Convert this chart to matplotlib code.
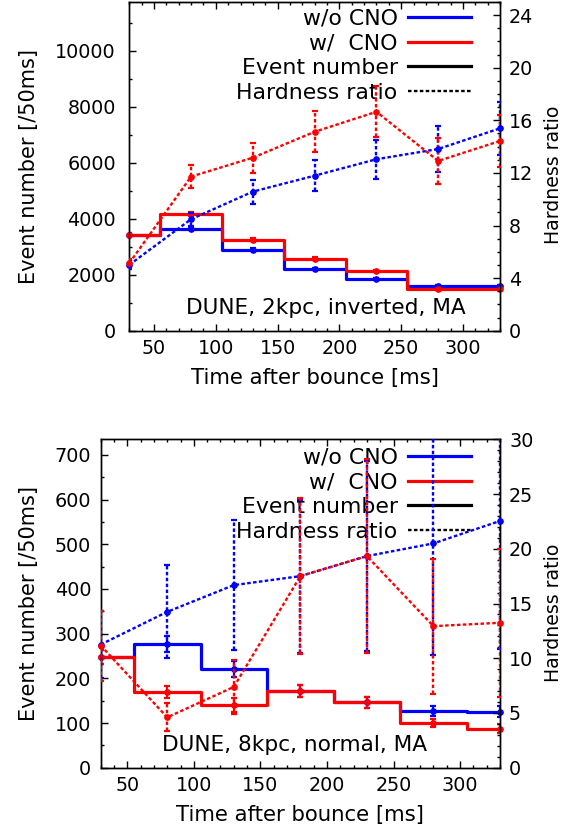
import matplotlib
matplotlib.use('Agg')
import matplotlib.pyplot as plt
from matplotlib.ticker import MultipleLocator
from matplotlib.lines import Line2D

plt.rcParams['font.family'] = ['DejaVu Sans']
plt.rcParams['axes.linewidth'] = 1.0

# ---------------- data ----------------
time_ms = [30, 80, 130, 180, 230, 280, 330]

# Top panel: DUNE, 2kpc, inverted, MA
top_events_wo = [3425, 3650, 2900, 2212, 1844, 1605, 1581]
top_events_wo_err = [55, 60, 54, 47, 43, 40, 40]
top_events_w = [3425, 4163, 3247, 2569, 2141, 1498, 1487]
top_events_w_err = [55, 65, 57, 51, 46, 39, 39]
top_hard_wo = [5.01, 8.48, 10.58, 11.79, 13.04, 13.82, 15.39]
top_hard_wo_err = [0.3, 0.5, 0.91, 1.2, 1.5, 1.77, 2.0]
top_hard_w = [5.14, 11.72, 13.16, 15.13, 16.65, 12.91, 14.43]
top_hard_w_err = [0.3, 0.89, 1.14, 1.57, 1.95, 1.75, 1.96]

# Bottom panel: DUNE, 8kpc, normal, MA
bot_events_wo = [248, 276, 220, 172, 146, 127, 125.5]
bot_events_wo_err = [16, 18, 18, 13, 12, 12, 12]
bot_events_w = [248, 169, 140, 172, 146, 99.6, 87]
bot_events_w_err = [16, 13, 15, 13, 12, 9, 10]
bot_hard_wo = [11.25, 14.24, 16.68, 17.5, 19.33, 20.49, 22.54]
bot_hard_wo_err = [3.1, 4.24, 5.95, 7.0, 8.7, 10.2, 11.7]
bot_hard_w = [11.16, 4.6, 7.38, 17.5, 19.33, 12.93, 13.24]
bot_hard_w_err = [3.2, 1.27, 2.47, 7.1, 8.84, 6.17, 6.75]

legend_labels = ['w/o CNO', 'w/  CNO', 'Event number', 'Hardness ratio']
x_label = 'Time after bounce [ms]'
y_label = 'Event number [/50ms]'
y2_label = 'Hardness ratio'

BLUE = '#0000ff'
RED = '#ff0000'
DOT = (0, (1.5, 1.0))
W, H = 579, 833

fig = plt.figure(figsize=(W / 100, H / 100), dpi=100)


def make_panel(rect, ev_wo, ev_wo_err, ev_w, ev_w_err, hd_wo, hd_wo_err, hd_w, hd_w_err,
               ymax, y2max, ymaj, ymin, y2maj, y2min, text, text_xy, leg_anchor,
               lpad, ylab_x):
    ax = fig.add_axes(rect)
    ax2 = ax.twinx()
    # event numbers (histogram steps)
    for ev, err, c in ((ev_wo, ev_wo_err, BLUE), (ev_w, ev_w_err, RED)):
        ax.step(time_ms, ev, where='mid', color=c, lw=2.3, zorder=2)
        ax.errorbar(time_ms, ev, yerr=err, fmt='none', ecolor=c, elinewidth=1.6,
                    capsize=2.2, capthick=1.6, zorder=3)
        ax.plot(time_ms, ev, 'o', color=c, ms=3.8, clip_on=False, zorder=4)
    # hardness ratio
    for hd, err, c in ((hd_wo, hd_wo_err, BLUE), (hd_w, hd_w_err, RED)):
        ax2.plot(time_ms, hd, color=c, lw=1.7, ls=DOT, zorder=2)
        eb = ax2.errorbar(time_ms, hd, yerr=err, fmt='none', ecolor=c, elinewidth=1.7,
                          capsize=2.2, capthick=1.6, zorder=3)
        eb[2][0].set_linestyle(DOT)
        ax2.plot(time_ms, hd, 'o', color=c, ms=3.8, clip_on=False, zorder=4)

    ax.set_xlim(30, 330)
    ax.set_ylim(0, ymax)
    ax2.set_ylim(0, y2max)
    ax.xaxis.set_major_locator(MultipleLocator(50))
    ax.xaxis.set_minor_locator(MultipleLocator(10))
    ax.yaxis.set_major_locator(MultipleLocator(ymaj))
    ax.yaxis.set_minor_locator(MultipleLocator(ymin))
    ax2.yaxis.set_major_locator(MultipleLocator(y2maj))
    ax2.yaxis.set_minor_locator(MultipleLocator(y2min))

    ax.tick_params(which='both', direction='in', top=True, right=False, labelsize=13.8)
    ax.tick_params(which='major', length=5, width=1)
    ax.tick_params(which='minor', length=2.5, width=1)
    ax.tick_params(axis='y', pad=lpad)
    ax.tick_params(axis='x', pad=6)
    ax2.tick_params(which='both', direction='in', right=True, left=False, labelsize=13.8, pad=6.5)
    ax2.tick_params(which='major', length=5, width=1)
    ax2.tick_params(which='minor', length=2.5, width=1)

    ax.set_xlabel(x_label, fontsize=15.3)
    ax.xaxis.label.set_va('center')
    ax.xaxis.set_label_coords(0.5, -0.144)
    ax.set_ylabel(y_label, fontsize=15)
    ax.yaxis.label.set_va('center')
    ax.yaxis.set_label_coords(ylab_x[0], 0.499)
    ax2.set_ylabel(y2_label, fontsize=13.6, rotation=90)
    ax2.yaxis.label.set_va('center')
    ax2.yaxis.set_label_coords(ylab_x[1], 0.473)

    ax.text(text_xy[0], text_xy[1], text, transform=ax.transAxes, ha='center', va='center',
            fontsize=15.6)

    handles = [Line2D([], [], color=BLUE, lw=2.3),
               Line2D([], [], color=RED, lw=2.3),
               Line2D([], [], color='black', lw=2.3),
               Line2D([], [], color='black', lw=1.7, ls=DOT)]
    ax.legend(handles, legend_labels, loc='upper right', bbox_to_anchor=leg_anchor,
              frameon=False, markerfirst=False, fontsize=15.8, borderpad=0,
              borderaxespad=0, handlelength=2.87, handletextpad=0.47, labelspacing=0.21)
    return ax, ax2


make_panel([129.3 / W, 1 - 330.7 / H, 370.7 / W, 328.7 / H],
           top_events_wo, top_events_wo_err, top_events_w, top_events_w_err,
           top_hard_wo, top_hard_wo_err, top_hard_w, top_hard_w_err,
           11750, 25, 2000, 1000, 4, 1,
           'DUNE, 2kpc, inverted, MA', (0.53, 0.068), (0.9218, 0.979),
           9.7, (-0.27, 1.144))

make_panel([100.7 / W, 1 - 767.7 / H, 399.3 / W, 328.4 / H],
           bot_events_wo, bot_events_wo_err, bot_events_w, bot_events_w_err,
           bot_hard_wo, bot_hard_wo_err, bot_hard_w, bot_hard_w_err,
           735, 30, 100, 50, 5, 1,
           'DUNE, 8kpc, normal, MA', (0.486, 0.069), (0.9274, 0.974),
           6.8, (-0.18, 1.134))

fig.savefig('out.png', dpi=100)
